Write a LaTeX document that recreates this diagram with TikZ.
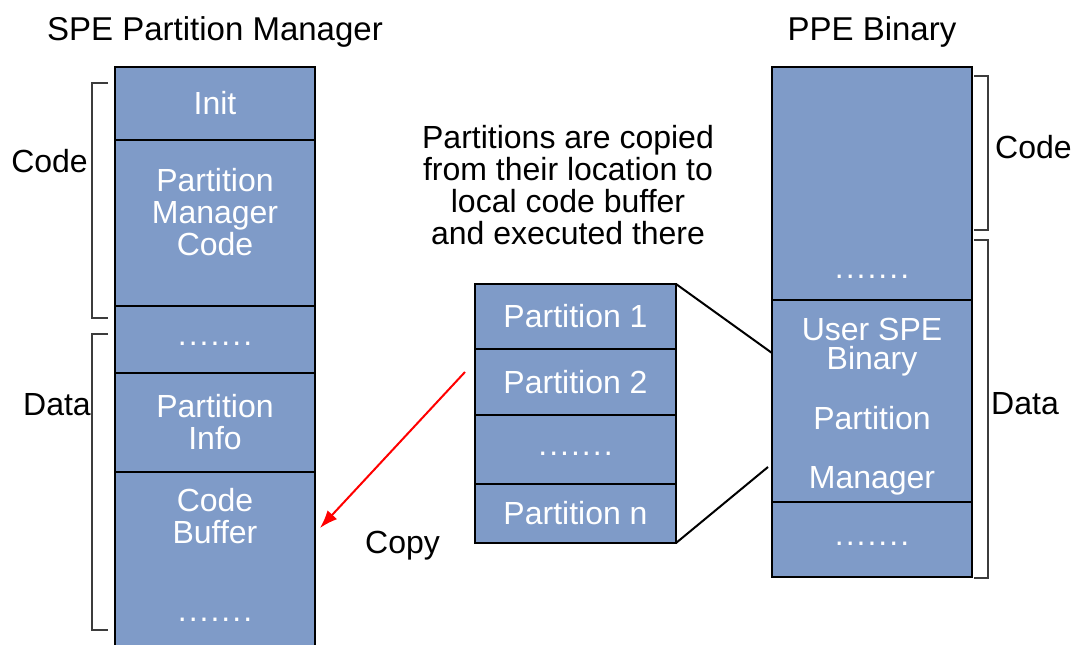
\documentclass[tikz,border=0pt]{standalone}
\usepackage{fontspec}
\setmainfont{Liberation Sans}
\usetikzlibrary{positioning,arrows.meta}
\definecolor{cellblue}{RGB}{127,155,200}
\definecolor{bracegray}{RGB}{60,60,60}
\newcommand\bigfont{\fontsize{32pt}{32pt}\selectfont}
\newcommand\titlefont{\fontsize{33pt}{33pt}\selectfont}
\newcommand\dotrow{\strut.\kern2pt.\kern2pt.\kern2pt.\kern2pt.\kern2pt.\kern2pt.}
% bracket: tip x, spine x, top y, bottom y
\newcommand\DrawBrace[4]{
    \draw[brace] (#1,#3) -- (#2,#3) -- (#2,#4) -- (#1,#4);
}
\tikzset{
    cell/.style={draw=black, line width=2pt, fill=cellblue, minimum width=200pt,
        inner sep=0pt, outer sep=0pt, text=white, font=\bigfont, align=center},
    celltext/.style={inner sep=0pt, text=white, font=\bigfont, align=center},
    blacktext/.style={inner sep=0pt, text=black, font=\bigfont, align=center},
    brace/.style={draw=bracegray, line width=2.2pt},
    zoomline/.style={draw=black, line width=2pt},
    copyarrow/.style={draw=red, line width=2pt, -{Latex[length=18pt,width=13pt]}}
}
\begin{document}
\begin{tikzpicture}[x=1pt,y=-1pt]
    \useasboundingbox (0,0) rectangle (1076,645);
    \clip (0,0) rectangle (1076,645);
    % Titles
    \node[blacktext, font=\titlefont, anchor=base] (speTitle) at (215,40) {SPE Partition Manager};
    \node[blacktext, font=\titlefont, anchor=base] (ppeTitle) at (872,40) {PPE Binary};
    % SPE local store
    \node[cell, anchor=north, minimum height=73pt] (init) at (215,67) {Init};
    \node[cell, below=0pt of init,   minimum height=166pt] (pmcode) {};
    \node[cell, below=0pt of pmcode, minimum height=67pt]  (dotsL)  {\dotrow};
    \node[cell, below=0pt of dotsL,  minimum height=99pt]  (pinfo)  {Partition\\Info};
    \node[cell, below=0pt of pinfo,  minimum height=210pt] (codebuf) {};
    \node[celltext, anchor=north] (pmtext) at (215,168) {Partition\\Manager\\Code};
    \node[celltext, anchor=north] (cbtext) at (215,488) {Code\\Buffer};
    \node[celltext, anchor=base]  (cbdots) at (215,621) {\dotrow};
    % Left brackets
    \DrawBrace{108}{92}{83}{318}
    \DrawBrace{108}{92}{334}{630}
    \node[blacktext, anchor=east] (codeL) at (88,161) {Code};
    \node[blacktext, anchor=east] (dataL) at (91,405) {Data};
    % Partitions
    \node[blacktext, anchor=north] (note) at (568,125)
        {Partitions are copied\\from their location to\\local code buffer\\and executed there};
    \node[cell, anchor=north, minimum width=201pt, minimum height=65pt] (part1) at (575.5,284) {Partition 1};
    \node[cell, below=0pt of part1, minimum width=201pt, minimum height=66pt] (part2) {Partition 2};
    \node[cell, below=0pt of part2, minimum width=201pt, minimum height=69pt] (partdots) {\dotrow};
    \node[cell, below=0pt of partdots, minimum width=201pt, minimum height=59pt] (partn) {Partition n};
    % PPE binary
    \node[cell, anchor=north, minimum height=233pt] (ppecode) at (872,67) {};
    \node[cell, below=0pt of ppecode, minimum height=202pt] (user)  {};
    \node[cell, below=0pt of user,    minimum height=75pt]  (dotsR) {\dotrow};
    \node[celltext, anchor=base] (codedots) at (872,278) {\dotrow};
    \node[celltext, anchor=north, font=\fontsize{32pt}{29pt}\selectfont] (usertext) at (872,318) {User SPE\\Binary};
    \node[celltext, anchor=north] (pmtextR) at (872,406) {Partition\\[27pt]Manager};
    % Right brackets
    \DrawBrace{974}{988}{76}{230}
    \DrawBrace{974}{988}{240}{578}
    \node[blacktext, anchor=west] (codeR) at (995,147) {Code};
    \node[blacktext, anchor=west] (dataR) at (991,404) {Data};
    % Zoom lines
    \coordinate (zoomtop) at ([yshift=-53pt]user.north west);
    \coordinate (zoombot) at ([xshift=-4pt,yshift=35pt]user.south west);
    \draw[zoomline] (part1.north east) -- (zoomtop);
    \draw[zoomline] (partn.south east) -- (zoombot);
    % Copy arrow
    \coordinate (copyfrom) at ([xshift=-10pt,yshift=10pt]part2.west);
    \coordinate (copyto) at ([xshift=5pt,yshift=-56pt]codebuf.north east);
    \draw[copyarrow] (copyfrom) -- (copyto);
    \node[blacktext, anchor=base west] (copy) at (365,553) {Copy};
\end{tikzpicture}
\end{document}
